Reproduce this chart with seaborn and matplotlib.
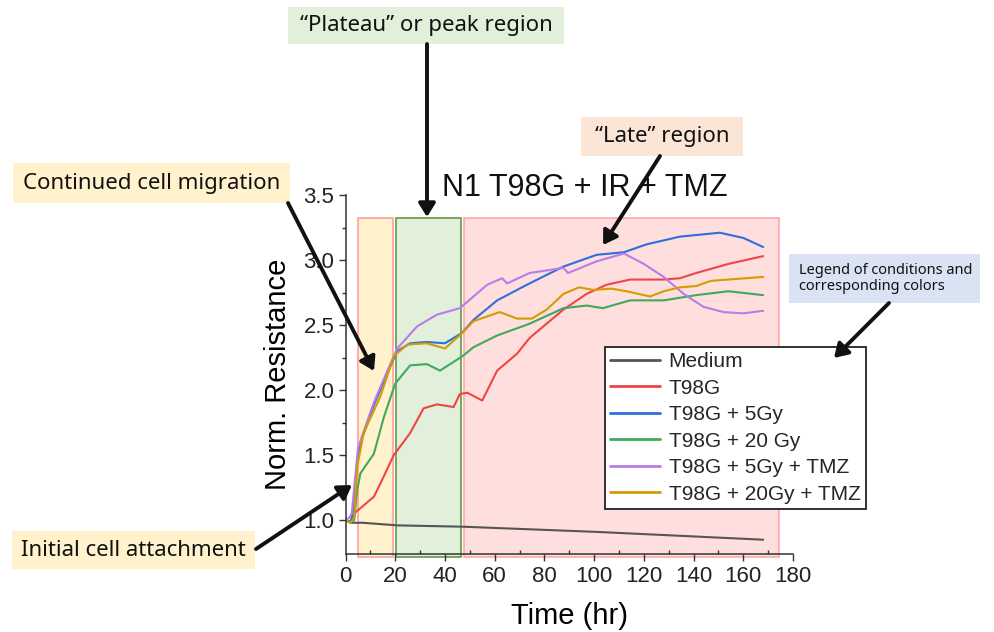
import numpy as np
import pandas as pd
import seaborn as sns
import matplotlib
matplotlib.use("Agg")
import matplotlib.pyplot as plt
from matplotlib.patches import Rectangle, FancyArrowPatch

# ---------------- data ----------------
conditions = ["Medium", "T98G", "T98G + 5Gy", "T98G + 20 Gy", "T98G + 5Gy + TMZ", "T98G + 20Gy + TMZ"]
colors = ["#555555", "#ee4646", "#2e6fdc", "#3daa5e", "#b67ee6", "#d39c00"]

t_medium = [0, 2, 7, 21, 47, 101, 168]
v_medium = [1.00, 0.98, 0.98, 0.96, 0.95, 0.91, 0.85]

t_t98g = [0, 2, 4, 11.4, 14, 19.4, 26, 31.4, 36.8, 43.5, 46, 49, 52, 55, 61, 69, 74, 79.6, 87.7, 97, 105, 114.5, 128, 134.5, 141, 154, 168]
v_t98g = [1.00, 0.99, 1.06, 1.18, 1.28, 1.50, 1.67, 1.86, 1.89, 1.87, 1.97, 1.98, 1.95, 1.92, 2.15, 2.28, 2.40, 2.49, 2.62, 2.74, 2.81, 2.85, 2.85, 2.86, 2.90, 2.97, 3.03]

t_5gy = [0, 2, 3, 4, 5, 6.5, 11.3, 18, 20.8, 26, 32.7, 40, 46.9, 51.5, 61, 74, 87.7, 101, 112, 121, 134.5, 150.6, 160, 168]
v_5gy = [1.00, 0.99, 1.05, 1.30, 1.50, 1.62, 1.88, 2.18, 2.30, 2.36, 2.37, 2.36, 2.44, 2.54, 2.69, 2.82, 2.95, 3.04, 3.06, 3.12, 3.18, 3.21, 3.17, 3.10]

t_20gy = [0, 2, 3.5, 4.7, 6, 11.4, 15.4, 20, 26, 32.7, 38, 47, 51.5, 61, 74, 87.7, 97, 103.5, 114.5, 128, 141, 154, 168]
v_20gy = [1.00, 0.98, 1.00, 1.23, 1.36, 1.51, 1.79, 2.05, 2.19, 2.20, 2.15, 2.26, 2.33, 2.42, 2.51, 2.63, 2.65, 2.63, 2.69, 2.69, 2.73, 2.76, 2.73]

t_5gy_tmz = [0, 1.5, 2.5, 4, 5, 6.7, 11.3, 18, 20.8, 28.8, 36.8, 46, 51.5, 57, 63, 65, 74, 87.7, 89.5, 101, 112, 120, 128, 136, 144, 152, 160, 168]
v_5gy_tmz = [1.00, 1.02, 1.05, 1.35, 1.55, 1.65, 1.90, 2.20, 2.32, 2.49, 2.58, 2.63, 2.72, 2.81, 2.86, 2.82, 2.90, 2.94, 2.90, 2.99, 3.05, 2.97, 2.87, 2.74, 2.64, 2.60, 2.59, 2.61]

t_20gy_tmz = [0, 2, 3.5, 4.7, 7.3, 14, 19.4, 24.8, 32.7, 40, 47, 51.5, 62, 69, 75, 81, 87.7, 94, 99.7, 107, 113, 122.5, 128, 134.5, 141, 147, 154, 168]
v_20gy_tmz = [1.00, 0.98, 1.02, 1.41, 1.67, 1.95, 2.26, 2.35, 2.36, 2.32, 2.44, 2.53, 2.60, 2.55, 2.55, 2.62, 2.74, 2.79, 2.77, 2.78, 2.76, 2.72, 2.76, 2.79, 2.80, 2.84, 2.85, 2.87]

series_t = [t_medium, t_t98g, t_5gy, t_20gy, t_5gy_tmz, t_20gy_tmz]
series_v = [v_medium, v_t98g, v_5gy, v_20gy, v_5gy_tmz, v_20gy_tmz]

x_ticks = [0, 20, 40, 60, 80, 100, 120, 140, 160, 180]
y_ticks = [1.0, 1.5, 2.0, 2.5, 3.0, 3.5]

# phase regions (hours) and their top value
region_early = (5, 19)
region_plateau = (20.5, 46.5)
region_late = (47.8, 174.4)
region_top = 3.32

rows = []
for name, ts, vs in zip(conditions, series_t, series_v):
    for t, v in zip(ts, vs):
        rows.append((name, t, v))
df = pd.DataFrame(rows, columns=["condition", "time", "value"])

# ---------------- figure ----------------
sns.set_theme(style="ticks")
plt.rcParams["font.family"] = ["Liberation Sans", "DejaVu Sans"]
W, H = 994, 632
fig = plt.figure(figsize=(W / 100, H / 100), dpi=100)
ax = fig.add_axes([345.5 / W, 1 - 554 / H, (793 - 345.5) / W, (554 - 195) / H])


def FP(x, y):
    return (x / W, 1 - y / H)


# shaded regions
ax.add_patch(Rectangle((region_early[0], 0.72), region_early[1] - region_early[0], region_top - 0.72,
                       facecolor="#fff2cc", edgecolor="#ff9f9f", lw=1.2, clip_on=False, zorder=0.5))
ax.add_patch(Rectangle((region_plateau[0], 0.72), region_plateau[1] - region_plateau[0], region_top - 0.72,
                       facecolor="#e2efda", edgecolor="#5e9a45", lw=1.2, clip_on=False, zorder=0.5))
ax.add_patch(Rectangle((region_late[0], 0.72), region_late[1] - region_late[0], region_top - 0.72,
                       facecolor="#ffdede", edgecolor="#ffa8a8", lw=1.2, clip_on=False, zorder=0.5))

sns.lineplot(data=df, x="time", y="value", hue="condition", hue_order=conditions,
             palette=dict(zip(conditions, colors)), estimator=None, sort=False,
             lw=1.5, ax=ax, zorder=2)

ax.set_xlim(0, 180)
ax.set_ylim(0.74, 3.5)
ax.set_xticks(x_ticks)
ax.set_yticks(y_ticks)
ax.set_xticks(np.arange(10, 180, 20), minor=True)
ax.set_yticks(np.arange(1.25, 3.5, 0.5), minor=True)
ax.yaxis.set_major_formatter(matplotlib.ticker.FormatStrFormatter("%.1f"))
sns.despine(ax=ax)
for s in ["left", "bottom"]:
    ax.spines[s].set_color("#333333")
    ax.spines[s].set_linewidth(1.1)
ax.tick_params(axis="both", which="major", labelsize=16, length=5, width=1.0, color="#333333", labelcolor="#222222")
ax.tick_params(axis="x", which="minor", direction="in", length=3, width=1.0, color="#333333")
ax.tick_params(axis="y", which="minor", direction="out", length=3, width=1.0, color="#333333")
ax.tick_params(axis="y", which="major", pad=3)
ax.tick_params(axis="x", which="major", pad=4)
ax.set_xlabel("Time (hr)", fontsize=21, color="black")
ax.set_ylabel("Norm. Resistance", fontsize=21, color="black")
ax.xaxis.set_label_coords(0.5, -0.135)
ax.yaxis.set_label_coords(-0.12, 0.5)
ax.set_facecolor("white")

leg = ax.legend(title=None, loc="upper left", bbox_to_anchor=FP(605, 347),
                bbox_transform=fig.transFigure, frameon=True, fancybox=False,
                fontsize=15, handlelength=2.4, handletextpad=0.4, labelspacing=0.36,
                borderpad=0.25, borderaxespad=0, framealpha=1)
leg.get_frame().set_edgecolor("#222222")
leg.get_frame().set_linewidth(1.3)
leg.set_zorder(5)
for line in leg.get_lines():
    line.set_linewidth(2)

fig.text(*FP(585, 188), "N1 T98G + IR + TMZ", ha="center", va="center", fontsize=22, color="#111111")

# ---------------- annotation boxes and arrows ----------------
ann_font = ["Noto Sans", "DejaVu Sans"]


def box(x0, y0, x1, y1, color, text, tx=None, ha="center", size=16):
    fig.patches.append(Rectangle(FP(x0, y1), (x1 - x0) / W, (y1 - y0) / H, transform=fig.transFigure,
                                 facecolor=color, edgecolor="none", zorder=3))
    cx = (x0 + x1) / 2 if tx is None else tx
    fig.text(*FP(cx, (y0 + y1) / 2), text, ha=ha, va="center", fontsize=size,
             family=ann_font, color="#111111", zorder=4, linespacing=1.1)


def arrow(x0, y0, x1, y1):
    fig.patches.append(FancyArrowPatch(FP(x0, y0), FP(x1, y1), transform=fig.transFigure,
                                       arrowstyle="-|>,head_length=8,head_width=5", lw=2.8,
                                       color="#111111", shrinkA=0, shrinkB=0, zorder=6,
                                       mutation_scale=1))


box(288, 7, 564, 44, "#e2efda", "\u201cPlateau\u201d or peak region")
box(581, 117, 743, 156, "#fbe5d6", "\u201cLate\u201d region")
box(13, 163, 290, 203, "#fff2cc", "Continued cell migration")
box(12, 531, 255, 569, "#fff2cc", "Initial cell attachment")
box(789, 254, 980, 303, "#dae3f3", "Legend of conditions and\ncorresponding colors", tx=799, ha="left", size=10.5)

arrow(427, 44, 427, 217)
arrow(660, 156, 603, 245)
arrow(288, 203, 374, 371)
arrow(256, 549, 352, 485)
arrow(889, 303, 834, 358)

fig.savefig("out.png", dpi=100)
